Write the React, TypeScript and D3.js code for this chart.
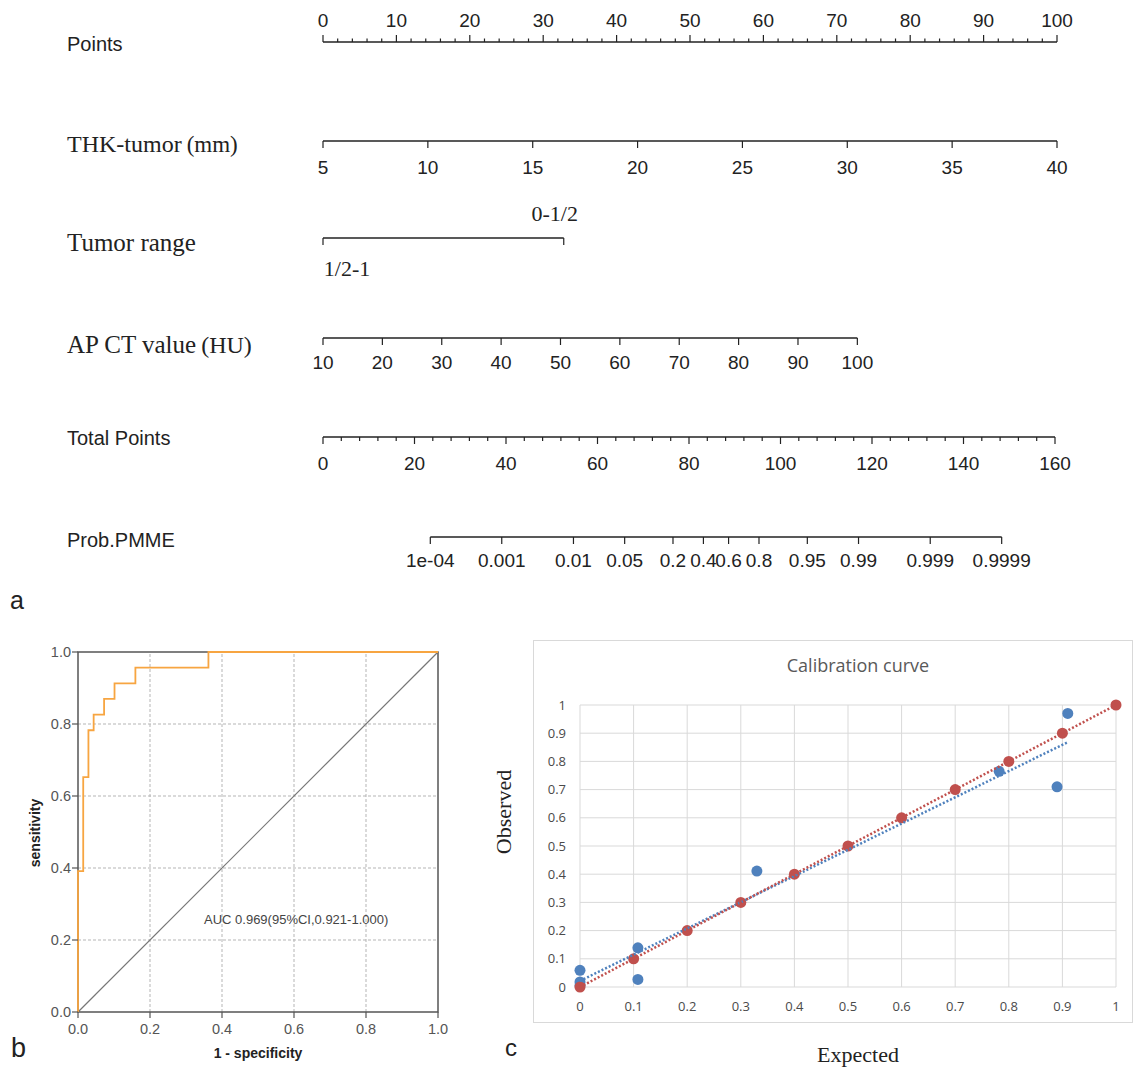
import React, { useEffect, useRef } from "react";
import * as d3 from "d3";

// nomogram rows
const pointTicks = [0, 10, 20, 30, 40, 50, 60, 70, 80, 90, 100];
const thkTicks = [5, 10, 15, 20, 25, 30, 35, 40];
const thkMaxPoints = 100;
const rangeLabels = ["1/2-1", "0-1/2"];
const rangePoints = [0, 32.8];
const ctTicks = [10, 20, 30, 40, 50, 60, 70, 80, 90, 100];
const ctMaxPoints = 72.8;
const totalTicks = [0, 20, 40, 60, 80, 100, 120, 140, 160];
const probTicks = [0.0001, 0.001, 0.01, 0.05, 0.2, 0.4, 0.6, 0.8, 0.95, 0.99, 0.999, 0.9999];
const probLabels = ["1e-04", "0.001", "0.01", "0.05", "0.2", "0.4", "0.6", "0.8", "0.95", "0.99", "0.999", "0.9999"];
const probCenter = 85.9; // total points at p = 0.5
const probSlope = 6.78; // total points per logit unit

// ROC
const rocFpr = [0, 0, 1 / 69, 2 / 69, 3 / 69, 5 / 69, 7 / 69, 11 / 69, 25 / 69, 1];
const rocTpr = [0, 9 / 23, 15 / 23, 18 / 23, 19 / 23, 20 / 23, 21 / 23, 22 / 23, 1, 1];
const rocTicks = [0, 0.2, 0.4, 0.6, 0.8, 1.0];

// calibration
const redX = [0, 0.1, 0.2, 0.3, 0.4, 0.5, 0.6, 0.7, 0.8, 0.9, 1];
const redY = [0, 0.1, 0.2, 0.3, 0.4, 0.5, 0.6, 0.7, 0.8, 0.9, 1];
const blueX = [0, 0, 0, 0.108, 0.108, 0.33, 0.782, 0.89, 0.91];
const blueY = [0.059, 0.018, 0.005, 0.139, 0.027, 0.411, 0.765, 0.71, 0.97];
const calTicks = [0, 0.1, 0.2, 0.3, 0.4, 0.5, 0.6, 0.7, 0.8, 0.9, 1];

const SANS = "'Liberation Sans', Arial, sans-serif";
const SERIF = "'Liberation Serif', 'Times New Roman', serif";
const CAL = "'Open Sans', sans-serif";

function fit(xs: number[], ys: number[]) {
	const mx = d3.mean(xs) as number;
	const my = d3.mean(ys) as number;
	let sxy = 0, sxx = 0;
	xs.forEach((x, i) => {
		sxy += (x - mx) * (ys[i] - my);
		sxx += (x - mx) * (x - mx);
	});
	const b = sxy / sxx;
	return { a: my - b * mx, b };
}

export default function App() {
	const ref = useRef<SVGSVGElement>(null);

	useEffect(() => {
		const svg = d3.select(ref.current);
		svg.selectAll("*").remove();

		// ---------- a: nomogram ----------
		const pts = d3.scaleLinear().domain([0, 100]).range([323, 1057]);
		const nom = svg.append("g").attr("stroke-linecap", "butt");
		const black = "#222";
		const tickFont = "19px";

		const rowLabel = (y: number, main: string, unit: string | null, serif: boolean, size: number) => {
			const t = nom.append("text").attr("x", 67).attr("y", y).attr("fill", black)
				.style("font-family", serif ? SERIF : SANS).style("font-size", `${size}px`).text(main);
			if (unit) t.append("tspan").attr("dx", 5).style("font-size", `${size - 1}px`).text(unit);
		};

		// Points
		rowLabel(51, "Points", null, false, 20);
		nom.append("line").attr("x1", pts(0)).attr("x2", pts(100)).attr("y1", 42).attr("y2", 42).attr("stroke", black).attr("stroke-width", 1.4);
		d3.range(0, 101, 2).forEach((v) => {
			const major = v % 10 === 0;
			nom.append("line").attr("x1", pts(v)).attr("x2", pts(v)).attr("y1", 42).attr("y2", major ? 35 : 38.5).attr("stroke", black).attr("stroke-width", 1.2);
		});
		nom.selectAll(".pt").data(pointTicks).enter().append("text").attr("x", (d) => pts(d)).attr("y", 27)
			.attr("text-anchor", "middle").attr("fill", black).style("font-family", SANS).style("font-size", tickFont).text((d) => d);

		const downAxis = (y: number, xs: number[], labels: (string | number)[], ly: number) => {
			nom.append("line").attr("x1", d3.min(xs) as number).attr("x2", d3.max(xs) as number).attr("y1", y).attr("y2", y).attr("stroke", black).attr("stroke-width", 1.4);
			xs.forEach((x, i) => {
				nom.append("line").attr("x1", x).attr("x2", x).attr("y1", y).attr("y2", y + 7).attr("stroke", black).attr("stroke-width", 1.2);
				if (labels[i] !== "") nom.append("text").attr("x", x).attr("y", ly).attr("text-anchor", "middle").attr("fill", black)
					.style("font-family", SANS).style("font-size", tickFont).text(labels[i]);
			});
		};

		// THK-tumor
		rowLabel(152, "THK-tumor", "(mm)", true, 24);
		const thk = d3.scaleLinear().domain([5, 40]).range([0, thkMaxPoints]);
		downAxis(141, thkTicks.map((v) => pts(thk(v))), thkTicks, 174);

		// Tumor range
		rowLabel(251, "Tumor range", null, true, 25);
		downAxis(238, rangePoints.map((p) => pts(p)), ["", ""], 0);
		nom.append("text").attr("x", pts(rangePoints[0]) + 24).attr("y", 276).attr("text-anchor", "middle").attr("fill", black)
			.style("font-family", SERIF).style("font-size", "22px").text(rangeLabels[0]);
		nom.append("text").attr("x", pts(rangePoints[1]) - 9).attr("y", 221).attr("text-anchor", "middle").attr("fill", black)
			.style("font-family", SERIF).style("font-size", "22px").text(rangeLabels[1]);

		// AP CT value
		rowLabel(353, "AP CT value", "(HU)", true, 25);
		const ct = d3.scaleLinear().domain([10, 100]).range([0, ctMaxPoints]);
		downAxis(338, ctTicks.map((v) => pts(ct(v))), ctTicks, 369);

		// Total points
		rowLabel(445, "Total Points", null, false, 20);
		const tot = d3.scaleLinear().domain([0, 160]).range([323, 1055]);
		nom.append("line").attr("x1", tot(0)).attr("x2", tot(160)).attr("y1", 437).attr("y2", 437).attr("stroke", black).attr("stroke-width", 1.4);
		d3.range(0, 161, 4).forEach((v) => {
			const major = v % 20 === 0;
			nom.append("line").attr("x1", tot(v)).attr("x2", tot(v)).attr("y1", 437).attr("y2", major ? 444 : 441).attr("stroke", black).attr("stroke-width", 1.2);
		});
		nom.selectAll(".tt").data(totalTicks).enter().append("text").attr("x", (d) => tot(d)).attr("y", 470)
			.attr("text-anchor", "middle").attr("fill", black).style("font-family", SANS).style("font-size", tickFont).text((d) => d);

		// Prob.PMME
		rowLabel(547, "Prob.PMME", null, false, 20);
		const logit = (p: number) => Math.log(p / (1 - p));
		downAxis(537, probTicks.map((p) => tot(probCenter + probSlope * logit(p))), probLabels, 567);

		nom.append("text").attr("x", 10).attr("y", 609).attr("fill", black).style("font-family", SANS).style("font-size", "25px").text("a");

		// ---------- b: ROC ----------
		const rx = d3.scaleLinear().domain([0, 1]).range([78, 438]);
		const ry = d3.scaleLinear().domain([0, 1]).range([1012, 652]);
		const roc = svg.append("g");
		const grid = [0.2, 0.4, 0.6, 0.8];
		grid.forEach((g) => {
			roc.append("line").attr("x1", rx(g)).attr("x2", rx(g)).attr("y1", ry(0)).attr("y2", ry(1)).attr("stroke", "#b5b5b5").attr("stroke-dasharray", "3,2");
			roc.append("line").attr("x1", rx(0)).attr("x2", rx(1)).attr("y1", ry(g)).attr("y2", ry(g)).attr("stroke", "#b5b5b5").attr("stroke-dasharray", "3,2");
		});
		roc.append("line").attr("x1", rx(0)).attr("y1", ry(0)).attr("x2", rx(1)).attr("y2", ry(1)).attr("stroke", "#777").attr("stroke-width", 1.2);
		roc.append("rect").attr("x", rx(0)).attr("y", ry(1)).attr("width", rx(1) - rx(0)).attr("height", ry(0) - ry(1))
			.attr("fill", "none").attr("stroke", "#555").attr("stroke-width", 1.5);
		const rocLine = d3.line<number>().x((d, i) => rx(rocFpr[i])).y((d, i) => ry(rocTpr[i])).curve(d3.curveStepAfter);
		roc.append("path").attr("d", rocLine(rocFpr)).attr("fill", "none").attr("stroke", "#f7a541").attr("stroke-width", 1.8);
		rocTicks.forEach((t) => {
			roc.append("line").attr("x1", rx(0) - 6).attr("x2", rx(0)).attr("y1", ry(t)).attr("y2", ry(t)).attr("stroke", "#555").attr("stroke-width", 1.2);
			roc.append("line").attr("x1", rx(t)).attr("x2", rx(t)).attr("y1", ry(0)).attr("y2", ry(0) + 6).attr("stroke", "#555").attr("stroke-width", 1.2);
			roc.append("text").attr("x", rx(0) - 7).attr("y", ry(t) + 5).attr("text-anchor", "end").attr("fill", "#555")
				.style("font-family", SANS).style("font-size", "14.5px").text(t.toFixed(1));
			roc.append("text").attr("x", rx(t)).attr("y", 1034).attr("text-anchor", "middle").attr("fill", "#555")
				.style("font-family", SANS).style("font-size", "14.5px").text(t.toFixed(1));
		});
		roc.append("text").attr("transform", "translate(40,833) rotate(-90)").attr("text-anchor", "middle").attr("fill", "#222")
			.style("font-family", SANS).style("font-size", "14px").style("font-weight", "bold").text("sensitivity");
		roc.append("text").attr("x", 258).attr("y", 1058).attr("text-anchor", "middle").attr("fill", "#222")
			.style("font-family", SANS).style("font-size", "14px").style("font-weight", "bold").text("1 - specificity");
		roc.append("text").attr("x", 204).attr("y", 924).attr("fill", "#444")
			.style("font-family", SANS).style("font-size", "13px").text("AUC 0.969(95%CI,0.921-1.000)");
		roc.append("text").attr("x", 11).attr("y", 1057).attr("fill", "#222").style("font-family", SANS).style("font-size", "27px").text("b");

		// ---------- c: calibration ----------
		const cx = d3.scaleLinear().domain([0, 1]).range([580, 1116]);
		const cy = d3.scaleLinear().domain([0, 1]).range([987, 705]);
		const cal = svg.append("g");
		cal.append("rect").attr("x", 533.5).attr("y", 640.5).attr("width", 599).attr("height", 382).attr("fill", "#fff").attr("stroke", "#d9d9d9");
		cal.append("text").attr("x", 858).attr("y", 672).attr("text-anchor", "middle").attr("fill", "#595959")
			.style("font-family", CAL).style("font-size", "18px").text("Calibration curve");
		calTicks.forEach((t) => {
			cal.append("line").attr("x1", cx(t)).attr("x2", cx(t)).attr("y1", cy(0)).attr("y2", cy(1)).attr("stroke", "#d9d9d9");
			cal.append("line").attr("x1", cx(0)).attr("x2", cx(1)).attr("y1", cy(t)).attr("y2", cy(t)).attr("stroke", "#d9d9d9");
			cal.append("text").attr("x", 566).attr("y", cy(t) + 4.5).attr("text-anchor", "end").attr("fill", "#4a4a4a")
				.style("font-family", CAL).style("font-size", "13px").text(d3.format("~g")(t));
			cal.append("text").attr("x", cx(t)).attr("y", 1011).attr("text-anchor", "middle").attr("fill", "#4a4a4a")
				.style("font-family", CAL).style("font-size", "13px").text(d3.format("~g")(t));
		});
		const red = "#c0504d", blue = "#4f81bd";
		blueX.forEach((x, i) => {
			cal.append("circle").attr("cx", cx(x)).attr("cy", cy(blueY[i])).attr("r", 5.5).attr("fill", blue);
		});
		redX.forEach((x, i) => {
			cal.append("circle").attr("cx", cx(x)).attr("cy", cy(redY[i])).attr("r", 5.5).attr("fill", red);
		});
		const trend = (xs: number[], ys: number[], color: string) => {
			const { a, b } = fit(xs, ys);
			const x0 = d3.min(xs) as number, x1 = d3.max(xs) as number;
			cal.append("line").attr("x1", cx(x0)).attr("y1", cy(a + b * x0)).attr("x2", cx(x1)).attr("y2", cy(a + b * x1))
				.attr("stroke", color).attr("stroke-width", 2.5).attr("stroke-dasharray", "2,2");
		};
		trend(blueX, blueY, blue);
		trend(redX, redY, red);
		cal.append("text").attr("transform", "translate(511,812) rotate(-90)").attr("text-anchor", "middle").attr("fill", "#222")
			.style("font-family", SERIF).style("font-size", "22px").text("Observed");
		cal.append("text").attr("x", 858).attr("y", 1062).attr("text-anchor", "middle").attr("fill", "#222")
			.style("font-family", SERIF).style("font-size", "22px").text("Expected");
		cal.append("text").attr("x", 505).attr("y", 1056).attr("fill", "#222").style("font-family", SANS).style("font-size", "24px").text("c");
	}, []);

	return (
		<svg ref={ref} width={1135} height={1070}
			style={{ position: "absolute", left: 0, top: 0, background: "#fff" }} />
	);
}
